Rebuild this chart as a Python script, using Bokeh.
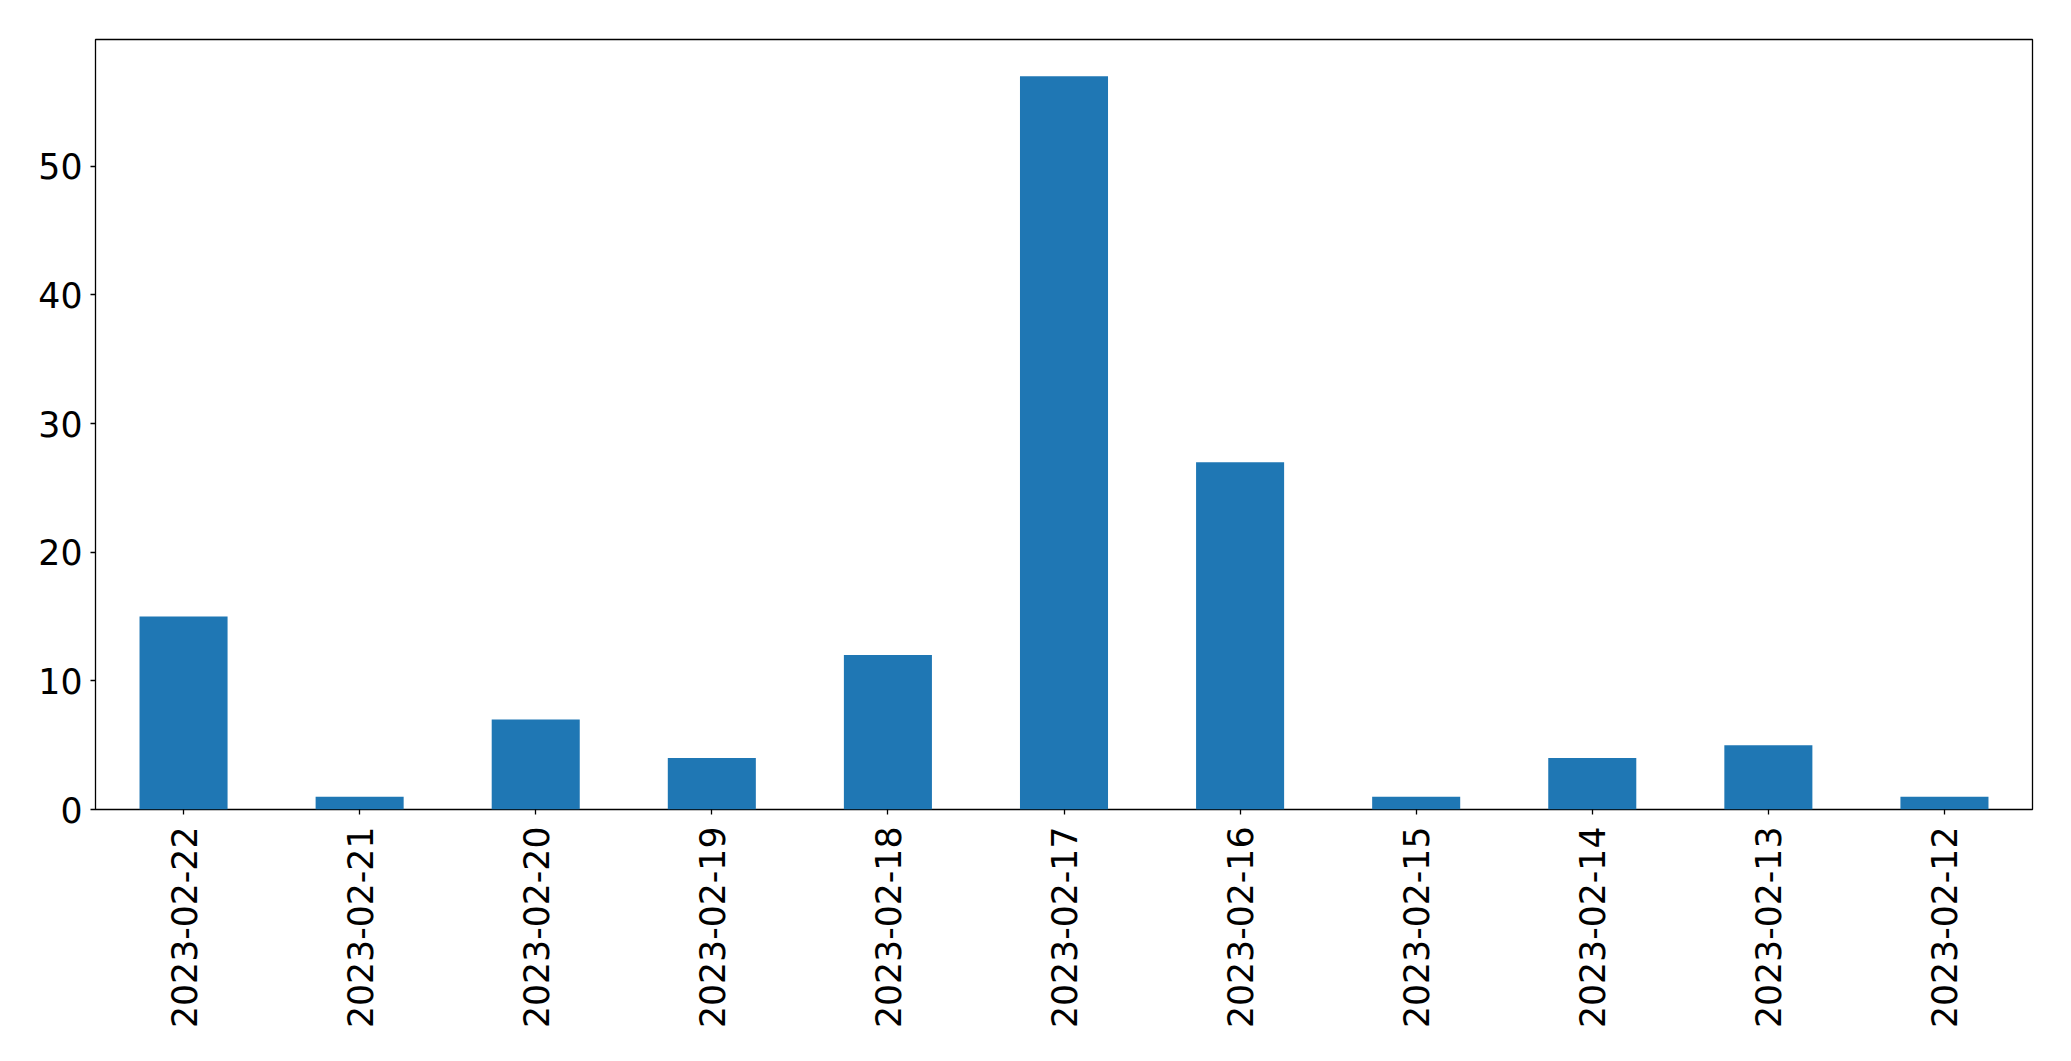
from bokeh.plotting import figure
from bokeh.models import FactorRange, Range1d, FixedTicker, ColumnDataSource
from bokeh.embed import file_html
from bokeh.resources import INLINE
import math

dates = ["2023-02-22", "2023-02-21", "2023-02-20", "2023-02-19", "2023-02-18",
         "2023-02-17", "2023-02-16", "2023-02-15", "2023-02-14", "2023-02-13",
         "2023-02-12"]
counts = [15, 1, 7, 4, 12, 57, 27, 1, 4, 5, 1]
y_ticks = [0, 10, 20, 30, 40, 50]

src = ColumnDataSource(dict(x=dates, top=counts))

p = figure(width=2055, height=1045, output_backend="svg", toolbar_location=None,
           x_range=FactorRange(*dates), y_range=Range1d(0, max(counts) * 1.05),
           min_border_left=95, min_border_right=23, min_border_top=39, min_border_bottom=236)

p.vbar(x="x", top="top", width=0.5, source=src, fill_color="#1f77b4", line_color=None)

p.xgrid.visible = False
p.ygrid.visible = False
p.outline_line_color = "black"
p.outline_line_width = 1.3
p.outline_line_alpha = 1

font = "DejaVu Sans"
for ax in (p.xaxis[0], p.yaxis[0]):
    ax.axis_line_color = None
    ax.major_tick_in = 0
    ax.major_tick_out = 5
    ax.major_tick_line_color = "black"
    ax.major_tick_line_width = 1.3
    ax.minor_tick_line_color = None
    ax.major_label_text_font = font
    ax.major_label_text_font_size = "34.7px"
    ax.major_label_text_color = "black"

p.yaxis[0].ticker = FixedTicker(ticks=y_ticks)
p.yaxis[0].major_label_standoff = 8
p.xaxis[0].major_label_orientation = math.pi / 2
p.xaxis[0].major_label_standoff = 12

open("out.html", "w").write(file_html(p, INLINE))
